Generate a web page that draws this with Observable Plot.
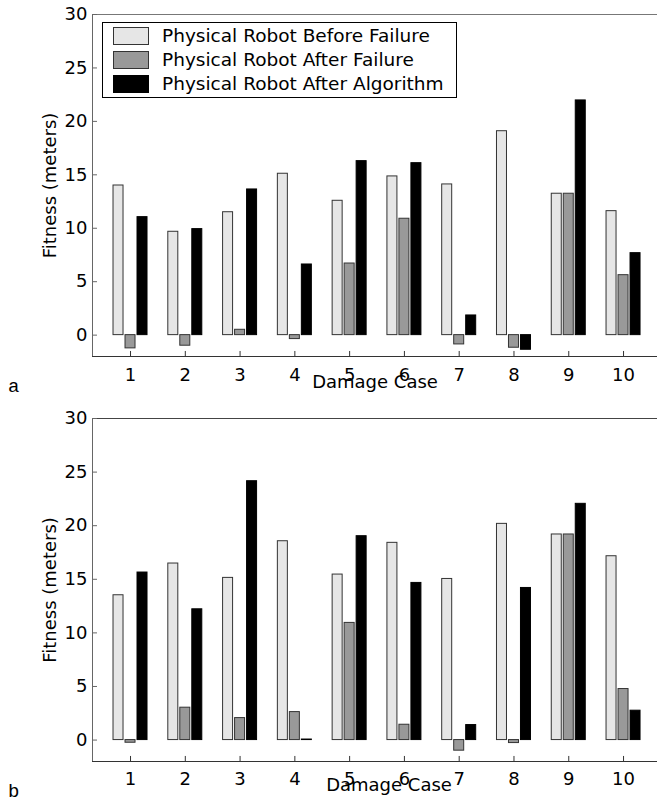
<!DOCTYPE html>
<html><head><meta charset="utf-8">
<script src="https://cdn.jsdelivr.net/npm/d3@7"></script>
<script src="https://cdn.jsdelivr.net/npm/@observablehq/plot@0.6"></script>
<style>
body{margin:0;background:#fff;}
#wrap{position:relative;width:657px;height:803px;overflow:hidden;background:#fff;}
.panel{position:absolute;left:0;}
.plabel{position:absolute;font-family:"Liberation Mono",monospace;font-size:19px;line-height:20px;color:#000;}
#legend{position:absolute;left:102px;top:22px;width:353px;height:74px;border:1.3px solid #000;background:#fff;font-family:"DejaVu Sans",sans-serif;font-size:18.5px;}
.lrow{position:absolute;left:0;height:24px;}
.sw{position:absolute;left:10px;width:34px;height:16px;border:1px solid #333;}
.lt{position:absolute;left:59px;top:-3px;white-space:nowrap;line-height:24px;}
</style></head><body><div id="wrap"></div>
<script>
const cases = [1, 2, 3, 4, 5, 6, 7, 8, 9, 10];
const seriesNames = ["Physical Robot Before Failure", "Physical Robot After Failure", "Physical Robot After Algorithm"];
const seriesColors = ["#e6e6e6", "#999999", "#000000"];
const panelA_before = [14.0, 9.67, 11.5, 15.1, 12.57, 14.85, 14.1, 19.08, 13.23, 11.6];
const panelA_afterFailure = [-1.24, -0.99, 0.5, -0.37, 6.7, 10.89, -0.87, -1.18, 13.23, 5.61];
const panelA_afterAlgorithm = [11.04, 9.92, 13.63, 6.61, 16.28, 16.09, 1.84, -1.37, 21.96, 7.67];
const panelB_before = [13.51, 16.47, 15.13, 18.55, 15.44, 18.4, 15.03, 20.17, 19.18, 17.15];
const panelB_afterFailure = [-0.25, 3.02, 2.05, 2.61, 10.93, 1.43, -0.99, -0.28, 19.18, 4.76];
const panelB_afterAlgorithm = [15.63, 12.2, 24.15, 0.05, 19.02, 14.66, 1.4, 14.19, 22.04, 2.74];
const yTicks = [0, 5, 10, 15, 20, 25, 30];
const xLabel = "Damage Case";
const yLabel = "Fitness (meters)";

const X0 = 0.306, X1 = 10.62;
const Y0 = -2, Y1 = 30;
const groupOffset = 0.219, halfBar = 0.0913;

function rows(before, afterF, afterA) {
  const out = [];
  [before, afterF, afterA].forEach((vals, s) => {
    vals.forEach((v, i) => out.push({case: cases[i], s, value: v}));
  });
  return out;
}

function panel(data, opts) {
  const tickX = 0.091, tickY = 0.47;
  return Plot.plot({
    width: 657,
    height: opts.height,
    marginLeft: 92,
    marginRight: 0,
    marginTop: opts.mt,
    marginBottom: opts.mb,
    style: {fontFamily: "DejaVu Sans, sans-serif", fontSize: "18px", background: "transparent", overflow: "visible"},
    x: {domain: [X0, X1], axis: null},
    y: {domain: [Y0, Y1], axis: null},
    marks: [
      Plot.rectY(data, {
        x1: d => d.case + (d.s - 1) * groupOffset - halfBar,
        x2: d => d.case + (d.s - 1) * groupOffset + halfBar,
        y1: 0, y2: "value",
        fill: d => seriesColors[d.s],
        stroke: d => d.s === 2 ? "#000" : "#333",
        strokeWidth: 1
      }),
      Plot.ruleY([Y1], {stroke: opts.topStroke, strokeWidth: 1}),
      Plot.ruleY([Y0], {stroke: "#333", strokeWidth: 1}),
      Plot.ruleX([X0], {stroke: "#666", strokeWidth: 1}),
      Plot.ruleY(yTicks, {y: d => d, x1: X0, x2: X0 + tickX, stroke: "#666"}),
      Plot.ruleX(cases, {x: d => d, y1: Y0, y2: Y0 + tickY, stroke: "#333"}),
      Plot.text(yTicks, {x: X0, y: d => d, text: d => String(d), textAnchor: "end", dx: -5, fill: "#000"}),
      Plot.text(cases, {x: d => d, y: Y0, text: d => String(d), dy: opts.tickDy, fill: "#000"}),
      Plot.text([yLabel], {x: X0, y: (Y0 + Y1) / 2, text: d => d, rotate: -90, dx: -42, fill: "#000"}),
      Plot.text([xLabel], {frameAnchor: "bottom", text: d => d, dx: opts.xlDx, dy: opts.xlDy, fill: "#000"})
    ]
  });
}

const wrap = document.getElementById("wrap");
const pa = panel(rows(panelA_before, panelA_afterFailure, panelA_afterAlgorithm), {height: 400, mt: 14, mb: 44, tickDy: 19, xlDx: 0, xlDy: 31, topStroke: "#777"});
pa.classList.add("panel"); pa.style.top = "0px";
wrap.appendChild(pa);
const pb = panel(rows(panelB_before, panelB_afterFailure, panelB_afterAlgorithm), {height: 403, mt: 18, mb: 42, tickDy: 18, xlDx: 14, xlDy: 29.5, topStroke: "#444"});
pb.classList.add("panel"); pb.style.top = "400px";
wrap.appendChild(pb);

const la = document.createElement("div"); la.className = "plabel"; la.textContent = "a"; la.style.left = "8px"; la.style.top = "377px"; wrap.appendChild(la);
const lb = document.createElement("div"); lb.className = "plabel"; lb.textContent = "b"; lb.style.left = "8px"; lb.style.top = "782px"; wrap.appendChild(lb);

const leg = document.createElement("div"); leg.id = "legend";
seriesNames.forEach((n, i) => {
  const r = document.createElement("div"); r.className = "lrow"; r.style.top = (4 + i * 24) + "px";
  const sw = document.createElement("div"); sw.className = "sw"; sw.style.background = seriesColors[i];
  if (i === 2) sw.style.borderColor = "#000";
  const t = document.createElement("div"); t.className = "lt"; t.textContent = n;
  r.appendChild(sw); r.appendChild(t); leg.appendChild(r);
});
wrap.appendChild(leg);
</script></body></html>
